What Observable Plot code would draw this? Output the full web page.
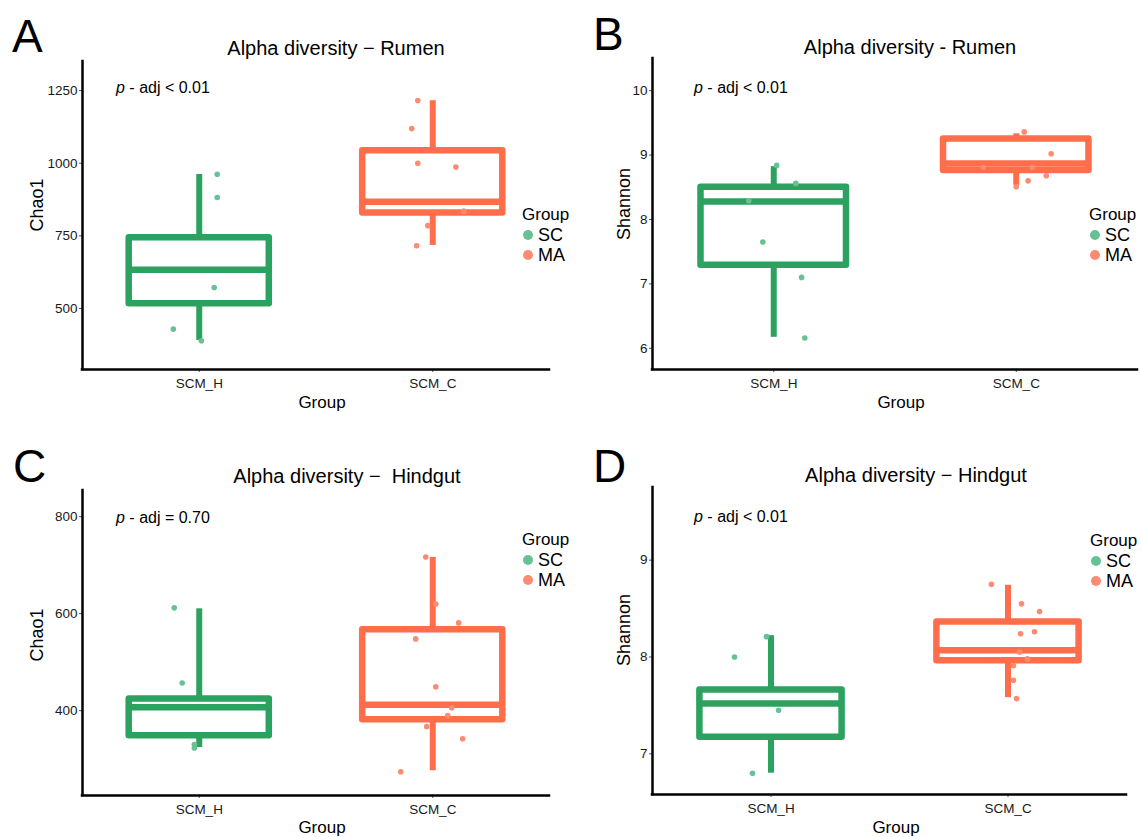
<!DOCTYPE html>
<html>
<head>
<meta charset="utf-8">
<script src="https://cdn.jsdelivr.net/npm/d3@7"></script>
<script src="https://cdn.jsdelivr.net/npm/@observablehq/plot@0.6"></script>
<style>
  body { margin: 0; background: #fff; }
  #root { position: relative; width: 1142px; height: 837px; overflow: hidden; font-family: "Liberation Sans", Arial, sans-serif; }
  .panel { position: absolute; }
  #overlay { position: absolute; left: 0; top: 0; pointer-events: none; }
</style>
</head>
<body>
<div id="root"></div>
<script>
// ---------- shared ----------
const groups = ["SCM_H", "SCM_C"];
const legendTitle = "Group";
const legendLabels = ["SC", "MA"];
const boxColors = ["#2ba25f", "#ff6d4b"];
const dotColors = ["#66c294", "#fb8c72"];
const xTitle = "Group";

// ---------- Panel A : Chao1, Rumen ----------
const titleA = "Alpha diversity − Rumen";
const statA = " - adj < 0.01";
const ylabA = "Chao1";
const ticksA = [500, 750, 1000, 1250];
const domainA = [290, 1350];
const boxA_SC = [390, 516, 633, 743, 961];   // lo, q1, median, q3, hi
const boxA_MA = [717, 829, 867, 1043, 1215];
const valsA_SC = [962, 882, 572, 429, 389];
const jitA_SC = [0.077, 0.077, 0.064, -0.111, 0.009];
const valsA_MA = [1216, 1119, 1000, 987, 835, 785, 716];
const jitA_MA = [-0.064, -0.09, -0.064, 0.099, 0.133, -0.021, -0.069];

// ---------- Panel B : Shannon, Rumen ----------
const titleB = "Alpha diversity - Rumen";
const statB = " - adj < 0.01";
const ylabB = "Shannon";
const ticksB = [6, 7, 8, 9, 10];
const domainB = [5.67, 10.5];
const boxB_SC = [6.17, 7.29, 8.28, 8.50, 8.82];
const boxB_MA = [8.53, 8.76, 8.87, 9.25, 9.33];
const valsB_SC = [8.84, 8.56, 8.29, 7.65, 7.10, 6.16];
const jitB_SC = [0.012, 0.091, -0.103, -0.045, 0.115, 0.128];
const valsB_MA = [9.36, 9.02, 8.60, 8.68, 8.51, 8.81, 8.81];
const jitB_MA = [0.033, 0.144, 0.049, 0.124, 0.0, -0.136, 0.066];

// ---------- Panel C : Chao1, Hindgut ----------
const titleC = "Alpha diversity −  Hindgut";
const statC = " - adj = 0.70";
const ylabC = "Chao1";
const ticksC = [400, 600, 800];
const domainC = [225, 854];
const boxC_SC = [324, 348, 407, 424, 610];
const boxC_MA = [276, 381, 412, 567, 716];
const valsC_SC = [612, 457, 330, 323];
const jitC_SC = [-0.107, -0.073, -0.021, -0.021];
const valsC_MA = [717, 620, 581, 548, 449, 406, 390, 367, 342, 274];
const jitC_MA = [-0.03, 0.013, 0.111, -0.073, 0.013, 0.081, 0.064, -0.026, 0.128, -0.137];

// ---------- Panel D : Shannon, Hindgut ----------
const titleD = "Alpha diversity − Hindgut";
const statD = " - adj < 0.01";
const ylabD = "Shannon";
const ticksD = [7, 8, 9];
const domainD = [6.58, 9.75];
const boxD_SC = [6.80, 7.17, 7.52, 7.66, 8.22];
const boxD_MA = [7.58, 7.96, 8.07, 8.36, 8.74];
const valsD_SC = [8.21, 8.00, 7.45, 6.80];
const jitD_SC = [-0.019, -0.154, 0.032, -0.078];
const valsD_MA = [8.75, 8.55, 8.47, 8.24, 8.26, 7.98, 7.91, 7.76, 7.57, 8.05];
const jitD_MA = [-0.07, 0.057, 0.133, 0.053, 0.112, 0.082, 0.023, 0.023, 0.036, 0.049];

// ---------- layout (page pixels) ----------
const panels = [
  { letter: "A", title: titleA, stat: statA, ylab: ylabA, ticks: ticksA, domain: domainA,
    boxes: [boxA_SC, boxA_MA], vals: [valsA_SC, valsA_MA], jit: [jitA_SC, jitA_MA],
    L: { left: 0, top: 0, w: 571, h: 420, ml: 82, mr: 22, mt: 61, mb: 51 },
    T: { letter: [12, 52], title: [336, 55], stat: [116, 93], ylab: [43, 205], xlab: [322, 408], legend: [522, 220] } },
  { letter: "B", title: titleB, stat: statB, ylab: ylabB, ticks: ticksB, domain: domainB,
    boxes: [boxB_SC, boxB_MA], vals: [valsB_SC, valsB_MA], jit: [jitB_SC, jitB_MA],
    L: { left: 570, top: 0, w: 572, h: 420, ml: 82, mr: 5, mt: 58, mb: 51 },
    T: { letter: [593, 50], title: [910, 54], stat: [694, 93], ylab: [630, 204], xlab: [901, 408], legend: [1089, 220] } },
  { letter: "C", title: titleC, stat: statC, ylab: ylabC, ticks: ticksC, domain: domainC,
    boxes: [boxC_SC, boxC_MA], vals: [valsC_SC, valsC_MA], jit: [jitC_SC, jitC_MA],
    L: { left: 0, top: 420, w: 571, h: 417, ml: 82, mr: 22, mt: 70, mb: 42 },
    T: { letter: [13, 482], title: [347, 483], stat: [116, 523], ylab: [43, 635], xlab: [322, 833], legend: [522, 545] } },
  { letter: "D", title: titleD, stat: statD, ylab: ylabD, ticks: ticksD, domain: domainD,
    boxes: [boxD_SC, boxD_MA], vals: [valsD_SC, valsD_MA], jit: [jitD_SC, jitD_MA],
    L: { left: 570, top: 420, w: 572, h: 417, ml: 82, mr: 16, mt: 67, mb: 43 },
    T: { letter: [593, 482], title: [916, 482], stat: [694, 522], ylab: [630, 630], xlab: [896, 833], legend: [1090, 546] } }
];

const FONT = '"Liberation Sans", Arial, sans-serif';
const root = document.getElementById("root");
const HW = 0.3; // half box width in category units

function drawPanel(p) {
  const L = p.L;
  const boxRows = p.boxes.map((b, i) => ({ pos: i + 1, lo: b[0], q1: b[1], med: b[2], q3: b[3], hi: b[4], c: boxColors[i] }));
  const pts = [];
  p.vals.forEach((arr, i) => arr.forEach((v, j) => pts.push({ x: i + 1 + p.jit[i][j], y: v, c: dotColors[i] })));
  const chart = Plot.plot({
    width: L.w, height: L.h,
    marginLeft: L.ml, marginRight: L.mr, marginTop: L.mt, marginBottom: L.mb,
    style: { fontFamily: FONT, fontSize: "13px", color: "#1a1a1a", background: "transparent", overflow: "visible" },
    x: { domain: [0.5, 2.5] },
    y: { domain: p.domain },
    color: { type: "identity" },
    marks: [
      Plot.axisX({ ticks: [1, 2], tickFormat: d => groups[d - 1], tickSize: 3, tickPadding: 6, label: null, stroke: "#555", fontSize: 13.5 }),
      Plot.axisY({ ticks: p.ticks, tickFormat: d => String(d), tickSize: 3, tickPadding: 2, label: null, stroke: "#555", fontSize: 13.5 }),
      Plot.ruleX(boxRows, { x: "pos", y1: "q3", y2: "hi", stroke: "c", strokeWidth: 6 }),
      Plot.ruleX(boxRows, { x: "pos", y1: "lo", y2: "q1", stroke: "c", strokeWidth: 6 }),
      Plot.rect(boxRows, { x1: d => d.pos - HW, x2: d => d.pos + HW, y1: "q1", y2: "q3", fill: "none", stroke: "c", strokeWidth: 6.5, strokeLinejoin: "round" }),
      Plot.ruleY(boxRows, { y: "med", x1: d => d.pos - HW, x2: d => d.pos + HW, stroke: "c", strokeWidth: 6.5 }),
      Plot.dot(pts, { x: "x", y: "y", r: 2.8, fill: "c", stroke: null }),
      Plot.ruleY([p.domain[0]], { stroke: "#000", strokeWidth: 2.5, strokeLinecap: "square" }),
      Plot.ruleX([0.5], { stroke: "#000", strokeWidth: 2.5, strokeLinecap: "square" })
    ]
  });
  const div = document.createElement("div");
  div.className = "panel";
  div.style.left = L.left + "px";
  div.style.top = L.top + "px";
  div.appendChild(chart);
  root.appendChild(div);
}

panels.forEach(drawPanel);

// ---------- overlay texts (titles, letters, stats, axis titles, legends) ----------
const svg = d3.select(root).append("svg")
  .attr("id", "overlay").attr("width", 1142).attr("height", 837)
  .style("font-family", FONT);

panels.forEach(p => {
  const T = p.T;
  svg.append("text").attr("x", T.letter[0]).attr("y", T.letter[1])
    .attr("font-size", 46).attr("fill", "#000").text(p.letter);
  svg.append("text").attr("x", T.title[0]).attr("y", T.title[1])
    .attr("font-size", 20).attr("text-anchor", "middle").attr("fill", "#000")
    .attr("xml:space", "preserve").style("white-space", "pre").text(p.title);
  const st = svg.append("text").attr("x", T.stat[0]).attr("y", T.stat[1])
    .attr("font-size", 16).attr("fill", "#000").attr("xml:space", "preserve").style("white-space", "pre");
  st.append("tspan").attr("font-style", "italic").text("p");
  st.append("tspan").text(p.stat);
  svg.append("text").attr("transform", `translate(${T.ylab[0]},${T.ylab[1]}) rotate(-90)`)
    .attr("font-size", 18).attr("text-anchor", "middle").attr("fill", "#000").text(p.ylab);
  svg.append("text").attr("x", T.xlab[0]).attr("y", T.xlab[1])
    .attr("font-size", 17).attr("text-anchor", "middle").attr("fill", "#000").text(xTitle);
  const [lx, ly] = T.legend;
  svg.append("text").attr("x", lx).attr("y", ly).attr("font-size", 17).attr("fill", "#000").text(legendTitle);
  legendLabels.forEach((lab, i) => {
    svg.append("circle").attr("cx", lx + 6).attr("cy", ly + 15 + i * 20).attr("r", 5).attr("fill", dotColors[i]);
    svg.append("text").attr("x", lx + 16).attr("y", ly + 21 + i * 20).attr("font-size", 18).attr("fill", "#000").text(lab);
  });
});
</script>
</body>
</html>
